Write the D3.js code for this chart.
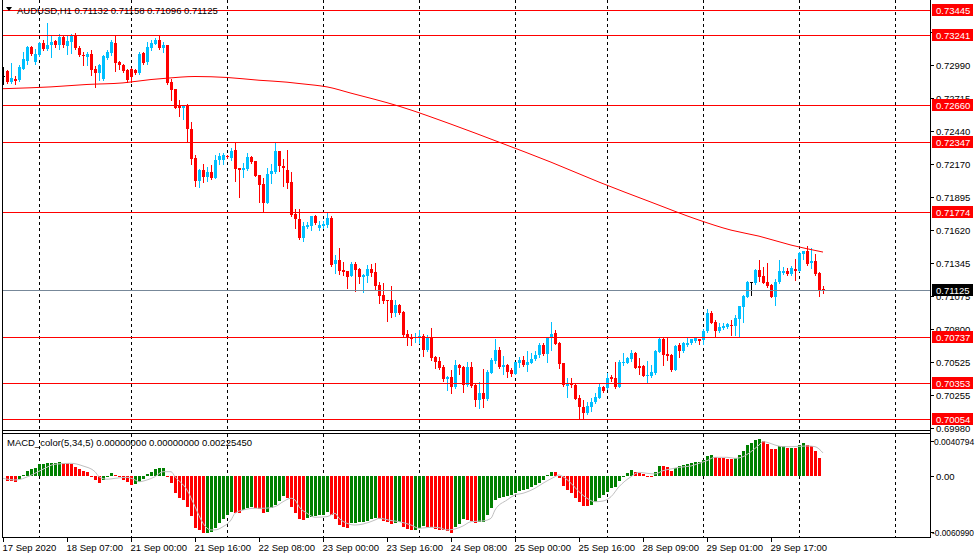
<!DOCTYPE html>
<html><head><meta charset="utf-8">
<script src="https://cdn.jsdelivr.net/npm/d3@7/dist/d3.min.js"></script>
<style>
html,body{margin:0;padding:0;background:#fff;}
svg{display:block;font-family:"Liberation Sans",Arial,sans-serif;}
</style></head><body>
<svg id="c" width="976" height="559"></svg>
<script>
// ---------------- DATA ----------------
const symbolHeader = "AUDUSD,H1  0.71132 0.71158 0.71096 0.71125";
const macdHeader = "MACD_color(5,34,5) 0.00000000 0.00000000 0.00225450";
const firstBar = -1; // index of the first (partly hidden) bar

const open = [0.72900,
0.72939,0.72848,0.72871,0.72862,0.72959,0.73022,0.73138,0.73014,0.73069,0.73172,
0.73119,0.73152,0.73185,0.73152,0.73221,0.73147,0.73180,0.73235,0.73133,0.73075,
0.73056,0.73083,0.72953,0.72923,0.72876,0.73050,0.73089,0.73172,0.73014,0.72987,
0.72945,0.72953,0.72951,0.72923,0.73089,0.73014,0.73130,0.73166,0.73199,0.73130,
0.73152,0.72848,0.72788,0.72647,0.72633,0.72655,0.72457,0.72214,0.72026,0.72117,
0.72062,0.72098,0.72053,0.72200,0.72205,0.72233,0.72219,0.72283,0.72131,0.72122,
0.72125,0.72227,0.72191,0.72075,0.72001,0.71846,0.72084,0.72103,0.72274,0.72150,
0.72117,0.72020,0.71752,0.71711,0.71556,0.71647,0.71653,0.71736,0.71639,0.71656,
0.71661,0.71722,0.71338,0.71371,0.71289,0.71280,0.71242,0.71338,0.71297,0.71233,
0.71242,0.71297,0.71275,0.71164,0.71081,0.71040,0.71040,0.70935,0.70999,0.70943,
0.70758,0.70736,0.70723,0.70731,0.70745,0.70626,0.70723,0.70571,0.70535,0.70488,
0.70386,0.70405,0.70322,0.70502,0.70488,0.70336,0.70488,0.70336,0.70212,0.70267,
0.70220,0.70438,0.70535,0.70626,0.70488,0.70502,0.70460,0.70427,0.70521,0.70543,
0.70502,0.70521,0.70549,0.70584,0.70667,0.70593,0.70723,0.70764,0.70681,0.70515,
0.70330,0.70350,0.70336,0.70226,0.70157,0.70101,0.70157,0.70193,0.70231,0.70322,
0.70308,0.70400,0.70397,0.70322,0.70516,0.70521,0.70551,0.70604,0.70496,0.70496,
0.70413,0.70413,0.70433,0.70612,0.70717,0.70593,0.70585,0.70460,0.70667,0.70620,
0.70667,0.70681,0.70701,0.70717,0.70709,0.70783,0.70935,0.70861,0.70786,0.70811,
0.70819,0.70833,0.70828,0.70880,0.70985,0.71068,0.71186,0.71178,0.71289,0.71239,
0.71192,0.71164,0.71068,0.71186,0.71261,0.71280,0.71253,0.71297,0.71283,0.71421,
0.71449,0.71349,0.71363,0.71267,0.71132];

const high = [0.72973,
0.72945,0.73006,0.72896,0.72987,0.73097,0.73147,0.73147,0.73125,0.73180,0.73199,
0.73337,0.73235,0.73194,0.73249,0.73241,0.73235,0.73249,0.73257,0.73144,0.73097,
0.73097,0.73116,0.72978,0.73000,0.73069,0.73111,0.73199,0.73235,0.73020,0.73000,
0.72959,0.72965,0.72959,0.73097,0.73097,0.73180,0.73199,0.73216,0.73235,0.73180,
0.73158,0.72876,0.72793,0.72697,0.72655,0.72669,0.72517,0.72241,0.72125,0.72167,
0.72145,0.72158,0.72241,0.72263,0.72260,0.72241,0.72302,0.72346,0.72131,0.72180,
0.72263,0.72233,0.72194,0.72078,0.72056,0.72131,0.72172,0.72338,0.72277,0.72208,
0.72283,0.72103,0.71794,0.71799,0.71689,0.71689,0.71739,0.71744,0.71694,0.71697,
0.71766,0.71736,0.71413,0.71474,0.71352,0.71283,0.71352,0.71352,0.71302,0.71255,
0.71330,0.71338,0.71344,0.71192,0.71178,0.71040,0.71156,0.71040,0.71004,0.70952,
0.70792,0.70756,0.70764,0.70792,0.70756,0.70750,0.70811,0.70576,0.70571,0.70502,
0.70413,0.70460,0.70543,0.70510,0.70491,0.70529,0.70524,0.70342,0.70358,0.70469,
0.70460,0.70557,0.70717,0.70653,0.70576,0.70510,0.70474,0.70529,0.70571,0.70576,
0.70618,0.70604,0.70618,0.70681,0.70681,0.70736,0.70861,0.70792,0.70695,0.70518,
0.70391,0.70391,0.70344,0.70250,0.70212,0.70198,0.70226,0.70272,0.70350,0.70327,
0.70438,0.70419,0.70529,0.70543,0.70598,0.70571,0.70626,0.70612,0.70557,0.70502,
0.70535,0.70502,0.70623,0.70731,0.70731,0.70723,0.70590,0.70667,0.70681,0.70689,
0.70731,0.70717,0.70725,0.70720,0.70797,0.70963,0.70949,0.70875,0.70852,0.70847,
0.70847,0.70875,0.70916,0.70993,0.71081,0.71197,0.71192,0.71294,0.71371,0.71316,
0.71344,0.71170,0.71211,0.71371,0.71316,0.71308,0.71322,0.71380,0.71435,0.71449,
0.71490,0.71468,0.71421,0.71270,0.71158];

const low = [0.72835,
0.72838,0.72840,0.72835,0.72854,0.72955,0.73000,0.73069,0.73000,0.73061,0.73116,
0.73111,0.73056,0.73138,0.73125,0.73138,0.73083,0.73089,0.73125,0.73064,0.72987,
0.72987,0.72904,0.72807,0.72868,0.72862,0.73034,0.73069,0.72940,0.72959,0.72931,
0.72849,0.72849,0.72912,0.72912,0.73000,0.73000,0.73111,0.73160,0.73125,0.73092,
0.72829,0.72697,0.72630,0.72567,0.72539,0.72352,0.72167,0.71984,0.71979,0.72020,
0.72029,0.72042,0.72048,0.72167,0.72167,0.72214,0.72205,0.72029,0.71896,0.72062,
0.72117,0.72178,0.72067,0.71855,0.71766,0.71841,0.72012,0.72095,0.72109,0.71984,
0.71965,0.71739,0.71634,0.71543,0.71532,0.71634,0.71625,0.71670,0.71625,0.71634,
0.71647,0.71324,0.71266,0.71253,0.71247,0.71142,0.71239,0.71117,0.71178,0.71109,
0.71192,0.71242,0.71131,0.71018,0.71012,0.70869,0.70902,0.70910,0.70921,0.70742,
0.70667,0.70667,0.70695,0.70681,0.70576,0.70620,0.70543,0.70474,0.70466,0.70369,
0.70295,0.70272,0.70308,0.70427,0.70281,0.70330,0.70322,0.70162,0.70148,0.70157,
0.70215,0.70433,0.70515,0.70480,0.70427,0.70405,0.70410,0.70424,0.70488,0.70496,
0.70455,0.70515,0.70546,0.70565,0.70584,0.70529,0.70626,0.70673,0.70480,0.70330,
0.70239,0.70322,0.70217,0.70054,0.70054,0.70093,0.70121,0.70184,0.70226,0.70281,
0.70300,0.70369,0.70314,0.70317,0.70502,0.70516,0.70538,0.70478,0.70427,0.70410,
0.70355,0.70405,0.70427,0.70607,0.70502,0.70543,0.70455,0.70457,0.70571,0.70612,
0.70659,0.70676,0.70695,0.70676,0.70676,0.70778,0.70847,0.70731,0.70778,0.70797,
0.70805,0.70750,0.70750,0.70731,0.70861,0.71065,0.71081,0.71173,0.71200,0.71178,
0.71151,0.71062,0.70999,0.71184,0.71253,0.71247,0.71247,0.71206,0.71280,0.71380,
0.71330,0.71302,0.71247,0.71076,0.71096];

const close = [0.72900,
0.72848,0.72881,0.72857,0.72973,0.73042,0.73138,0.73078,0.73078,0.73172,0.73125,
0.73158,0.73180,0.73152,0.73221,0.73152,0.73188,0.73235,0.73133,0.73075,0.73061,
0.73083,0.72945,0.72923,0.72987,0.73061,0.73097,0.73180,0.73006,0.72987,0.72940,
0.72862,0.72890,0.72923,0.73083,0.73009,0.73138,0.73171,0.73199,0.73130,0.73152,
0.72840,0.72780,0.72636,0.72633,0.72647,0.72457,0.72208,0.72026,0.72117,0.72062,
0.72098,0.72048,0.72200,0.72233,0.72241,0.72222,0.72274,0.72125,0.72117,0.72131,
0.72222,0.72186,0.72070,0.71998,0.71846,0.72084,0.72109,0.72274,0.72150,0.72131,
0.72012,0.71744,0.71708,0.71556,0.71653,0.71661,0.71736,0.71675,0.71661,0.71670,
0.71722,0.71330,0.71371,0.71280,0.71269,0.71233,0.71338,0.71289,0.71233,0.71247,
0.71297,0.71266,0.71159,0.71076,0.71035,0.71035,0.70935,0.70999,0.70935,0.70750,
0.70731,0.70717,0.70736,0.70745,0.70626,0.70723,0.70562,0.70524,0.70474,0.70386,
0.70405,0.70322,0.70502,0.70480,0.70336,0.70488,0.70330,0.70212,0.70267,0.70220,
0.70446,0.70543,0.70626,0.70488,0.70502,0.70446,0.70427,0.70524,0.70543,0.70502,
0.70524,0.70549,0.70584,0.70667,0.70593,0.70723,0.70758,0.70676,0.70510,0.70336,
0.70350,0.70336,0.70220,0.70157,0.70101,0.70162,0.70198,0.70234,0.70322,0.70289,
0.70391,0.70383,0.70322,0.70529,0.70529,0.70563,0.70604,0.70480,0.70480,0.70413,
0.70419,0.70446,0.70620,0.70717,0.70585,0.70576,0.70460,0.70662,0.70618,0.70681,
0.70687,0.70714,0.70723,0.70701,0.70783,0.70935,0.70852,0.70783,0.70819,0.70825,
0.70839,0.70828,0.70894,0.70990,0.71073,0.71192,0.71186,0.71289,0.71233,0.71184,
0.71159,0.71068,0.71192,0.71280,0.71280,0.71255,0.71308,0.71283,0.71432,0.71446,
0.71336,0.71366,0.71253,0.71123,0.71125];

// moving average, read at sample bars
const maBars = [-1,1,11,20,29,36,40,47,55,63,70,73,77,80,86,98,111,123,136,148,161,173,181,188,196,204];
const maVals = [0.72792,0.72794,0.72807,0.72827,0.72840,0.72868,0.72879,0.72893,0.72885,0.72862,0.72846,0.72835,0.72821,0.72807,0.72755,0.72647,0.72498,0.72349,0.72183,0.72018,0.71852,0.71703,0.71620,0.71570,0.71496,0.71438];

// horizontal levels (user lines) and current bid
const levels = [0.73445,0.73241,0.72660,0.72347,0.71774,0.70737,0.70353,0.70054];
const bid = 0.71125;
const priceTicks = [0.73265,0.72990,0.72715,0.72440,0.72170,0.71895,0.71620,0.71345,0.71075,0.70800,0.70525,0.70255,0.69980];

// MACD histogram, bars 0..203
const macd = [
-0.00046,-0.00052,-0.00056,-0.00032,0.00010,0.00052,0.00069,0.00081,0.00115,0.00116,
0.00124,0.00130,0.00131,0.00140,0.00124,0.00123,0.00115,0.00091,0.00069,0.00049,
0.00036,-0.00007,-0.00039,-0.00071,-0.00039,-0.00007,0.00026,0.00010,-0.00007,-0.00039,
-0.00062,-0.00085,-0.00081,-0.00056,-0.00032,0.00017,0.00042,0.00069,0.00075,0.00076,
0.00003,-0.00071,-0.00163,-0.00212,-0.00235,-0.00300,-0.00391,-0.00506,-0.00528,-0.00561,
-0.00555,-0.00551,-0.00506,-0.00457,-0.00424,-0.00382,-0.00355,-0.00359,-0.00365,-0.00333,
-0.00316,-0.00300,-0.00310,-0.00326,-0.00365,-0.00349,-0.00316,-0.00284,-0.00242,-0.00196,
-0.00218,-0.00300,-0.00359,-0.00424,-0.00431,-0.00414,-0.00404,-0.00391,-0.00382,-0.00379,
-0.00355,-0.00382,-0.00424,-0.00480,-0.00496,-0.00506,-0.00463,-0.00457,-0.00453,-0.00447,
-0.00440,-0.00424,-0.00414,-0.00424,-0.00437,-0.00447,-0.00470,-0.00457,-0.00453,-0.00496,
-0.00519,-0.00528,-0.00526,-0.00512,-0.00494,-0.00499,-0.00504,-0.00514,-0.00524,-0.00533,
-0.00543,-0.00558,-0.00496,-0.00473,-0.00424,-0.00431,-0.00437,-0.00457,-0.00453,-0.00450,
-0.00382,-0.00316,-0.00235,-0.00218,-0.00203,-0.00196,-0.00186,-0.00169,-0.00147,-0.00137,
-0.00127,-0.00105,-0.00088,-0.00066,-0.00039,0.00010,0.00042,0.00039,-0.00017,-0.00095,
-0.00137,-0.00169,-0.00212,-0.00252,-0.00294,-0.00297,-0.00284,-0.00252,-0.00218,-0.00186,
-0.00152,-0.00120,-0.00111,-0.00049,-0.00007,0.00032,0.00059,0.00042,0.00026,0.00020,
-0.00007,-0.00008,0.00036,0.00098,0.00095,0.00085,0.00052,0.00081,0.00098,0.00108,
0.00117,0.00124,0.00134,0.00137,0.00157,0.00196,0.00206,0.00183,0.00179,0.00173,
0.00166,0.00165,0.00173,0.00206,0.00245,0.00303,0.00326,0.00352,0.00362,0.00343,
0.00313,0.00264,0.00263,0.00294,0.00295,0.00277,0.00278,0.00277,0.00303,0.00320,
0.00303,0.00294,0.00245,0.00179];

// MACD signal line, read at sample bars
const sigBars = [-1,2,7,9,12,16,19,22,23,25,27,30,32,33,35,37,39,41,42,45,47,49,51,52,54,56,57,59,62,64,67,69,71,72,73,75,77,80,82,83,85,87,89,92,93,96,98,101,103,106,108,110,112,114,116,119,121,122,125,127,129,132,134,137,138,139,141,143,145,147,149,151,153,156,158,160,162,164,166,168,171,173,175,177,180,182,184,186,188,189,190,192,194,196,200,202,204];
const sigVals = [-0.00023,-0.00039,0.00026,0.00066,0.00115,0.00124,0.00098,0.00042,-0.00007,-0.00032,-0.00023,-0.00013,-0.00039,-0.00056,-0.00039,-0.00007,0.00042,0.00042,-0.00007,-0.00137,-0.00300,-0.00463,-0.00528,-0.00528,-0.00496,-0.00431,-0.00365,-0.00333,-0.00316,-0.00316,-0.00300,-0.00252,-0.00218,-0.00235,-0.00300,-0.00365,-0.00404,-0.00398,-0.00365,-0.00414,-0.00463,-0.00480,-0.00470,-0.00431,-0.00414,-0.00436,-0.00447,-0.00480,-0.00512,-0.00502,-0.00506,-0.00528,-0.00519,-0.00489,-0.00447,-0.00440,-0.00414,-0.00333,-0.00235,-0.00186,-0.00169,-0.00120,-0.00071,-0.00007,0.00010,-0.00007,-0.00071,-0.00154,-0.00218,-0.00252,-0.00245,-0.00203,-0.00105,-0.00007,0.00036,0.00026,0.00020,0.00052,0.00069,0.00085,0.00098,0.00124,0.00150,0.00183,0.00183,0.00173,0.00189,0.00238,0.00303,0.00336,0.00330,0.00303,0.00287,0.00287,0.00294,0.00287,0.002254];
const macdMax = 0.0040794, macdMin = -0.0060990;

// time axis
const timeLabels = ["17 Sep 2020","18 Sep 07:00","21 Sep 00:00","21 Sep 16:00","22 Sep 08:00","23 Sep 00:00","23 Sep 16:00","24 Sep 08:00","25 Sep 00:00","25 Sep 16:00","28 Sep 09:00","29 Sep 01:00","29 Sep 17:00"];
const timeLabelBars = [-1,15,31,47,63,79,95,111,127,143,159,175,191];
const gridBars = [8,31,55,79,103,127,150,174,198,222];

// ---------------- DRAW ----------------
const svg = d3.select("#c");
const RIGHT = 930, LEFT = 2;
const FS = "9.5px";
const x = d3.scaleLinear().domain([0, 230.75]).range([7, 930]);
const yP = d3.scaleLinear().domain([0.69980, 0.73445]).range([428, 9.9]);
const yM = d3.scaleLinear().domain([macdMin, macdMax]).range([538.3, 434.3]);
const px = v => Math.round(v) + 0.5;

const defs = svg.append("defs");
defs.append("clipPath").attr("id","clipP").append("rect").attr("x",LEFT+1).attr("y",0).attr("width",RIGHT-LEFT-1).attr("height",430);
defs.append("clipPath").attr("id","clipM").append("rect").attr("x",LEFT+1).attr("y",434).attr("width",RIGHT-LEFT-1).attr("height",103);

svg.append("rect").attr("width",976).attr("height",559).attr("fill","#fff");

// grid
const grid = svg.append("g").attr("stroke","#000").attr("stroke-width",1).attr("stroke-dasharray","3,3");
gridBars.forEach(b=>{
  const gx = px(x(b));
  grid.append("line").attr("x1",gx).attr("x2",gx).attr("y1",0).attr("y2",430);
  grid.append("line").attr("x1",gx).attr("x2",gx).attr("y1",434).attr("y2",537);
});

// candles
const bars = open.map((o,k)=>({i:k+firstBar,o,h:high[k],l:low[k],c:close[k]}));
const gP = svg.append("g").attr("clip-path","url(#clipP)");
const colorOf = d => d.c > d.o ? "#00bfff" : (d.c < d.o ? "#ff0000" : "#000000");
gP.selectAll("line.wick").data(bars).join("line").attr("class","wick")
  .attr("x1",d=>Math.round(x(d.i))+0.5).attr("x2",d=>Math.round(x(d.i))+0.5)
  .attr("y1",d=>Math.round(yP(d.h))).attr("y2",d=>Math.round(yP(d.l))+1)
  .attr("stroke",colorOf).attr("stroke-width",1);
gP.selectAll("rect.body").data(bars).join("rect").attr("class","body")
  .attr("x",d=>Math.round(x(d.i))-1).attr("width",3)
  .attr("y",d=>Math.round(yP(Math.max(d.o,d.c))))
  .attr("height",d=>Math.max(1,Math.round(yP(Math.min(d.o,d.c)))-Math.round(yP(Math.max(d.o,d.c)))))
  .attr("fill",colorOf).attr("shape-rendering","crispEdges");

// horizontal levels
levels.forEach(v=>{
  gP.append("line").attr("x1",LEFT).attr("x2",RIGHT).attr("y1",px(yP(v))).attr("y2",px(yP(v)))
    .attr("stroke","#ff0000").attr("stroke-width",1);
});
gP.append("line").attr("x1",LEFT).attr("x2",RIGHT).attr("y1",px(yP(bid))).attr("y2",px(yP(bid)))
  .attr("stroke","#778899").attr("stroke-width",1);

// moving average
const maPts = maBars.map((b,k)=>[x(b), yP(maVals[k])]);
gP.append("path").attr("d", d3.line().curve(d3.curveMonotoneX)(maPts))
  .attr("fill","none").attr("stroke","#ff0000").attr("stroke-width",1);

// MACD histogram
const gM = svg.append("g").attr("clip-path","url(#clipM)");
const mData = macd.map((v,i)=>({i,v,up: i>0 && v>macd[i-1]}));
const z = yM(0);
gM.selectAll("rect.h").data(mData).join("rect").attr("class","h")
  .attr("x",d=>Math.round(x(d.i))-1).attr("width",3)
  .attr("y",d=>Math.round(Math.min(yM(d.v), z)))
  .attr("height",d=>Math.max(1,Math.round(Math.abs(yM(d.v)-z))))
  .attr("fill",d=>d.up?"#008000":"#ff0000").attr("shape-rendering","crispEdges");
const sigPts = sigBars.map((b,k)=>[x(b), yM(sigVals[k])]);
gM.append("path").attr("d", d3.line().curve(d3.curveMonotoneX)(sigPts))
  .attr("fill","none").attr("stroke","#c0c0c0").attr("stroke-width",1);

// frame
const fr = svg.append("g").attr("stroke","#000").attr("stroke-width",1).attr("shape-rendering","crispEdges");
fr.append("line").attr("x1",LEFT+0.5).attr("x2",LEFT+0.5).attr("y1",0).attr("y2",538);
fr.append("line").attr("x1",RIGHT+0.5).attr("x2",RIGHT+0.5).attr("y1",0).attr("y2",538);
fr.append("line").attr("x1",LEFT).attr("x2",RIGHT+1).attr("y1",430.5).attr("y2",430.5);
fr.append("line").attr("x1",LEFT).attr("x2",RIGHT+1).attr("y1",433.5).attr("y2",433.5);
fr.append("line").attr("x1",LEFT).attr("x2",RIGHT+1).attr("y1",537.5).attr("y2",537.5);

// price axis ticks and labels
const ax = svg.append("g").attr("font-size",FS).attr("fill","#000");
priceTicks.forEach(v=>{
  const ty = px(yP(v));
  ax.append("line").attr("x1",RIGHT).attr("x2",RIGHT+4).attr("y1",ty).attr("y2",ty).attr("stroke","#000");
  ax.append("text").attr("x",936).attr("y",ty+3.5).text(v.toFixed(5));
});
// level tags
levels.forEach(v=>{
  const ty = Math.round(yP(v));
  ax.append("rect").attr("x",932).attr("y",ty-6).attr("width",41).attr("height",12).attr("fill","#ff0000");
  ax.append("text").attr("x",936).attr("y",ty+4).attr("fill","#fff").text(v.toFixed(5));
});
{
  const ty = Math.round(yP(bid));
  ax.append("rect").attr("x",932).attr("y",ty-6).attr("width",41).attr("height",12).attr("fill","#000");
  ax.append("text").attr("x",936).attr("y",ty+4).attr("fill","#fff").text(bid.toFixed(5));
}

// MACD axis
const mTicks = [[yM(macdMax)+7, "0.0040794", 934, "8.5px"],[z, "0.00", 936, FS],[yM(macdMin)-6, "-0.0060990", 932, "8.3px"]];
mTicks.forEach(([ty,lab,tx,fs])=>{
  ax.append("line").attr("x1",RIGHT).attr("x2",RIGHT+4).attr("y1",px(ty)).attr("y2",px(ty)).attr("stroke","#000");
  ax.append("text").attr("x",tx).attr("y",px(ty)+3.5).attr("font-size",fs).text(lab);
});

// time axis
timeLabelBars.forEach((b,k)=>{
  const tx = Math.round(x(b));
  ax.append("line").attr("x1",tx+0.5).attr("x2",tx+0.5).attr("y1",538).attr("y2",542).attr("stroke","#000");
  ax.append("text").attr("x",tx-0.5).attr("y",551).text(timeLabels[k]);
});

// headers
svg.append("path").attr("d","M6,7 L12,7 L9,11 Z").attr("fill","#000");
svg.append("text").attr("x",17).attr("y",14).attr("font-size",FS).text(symbolHeader);
svg.append("text").attr("x",7).attr("y",446).attr("font-size",FS).text(macdHeader);
</script>
</body></html>
